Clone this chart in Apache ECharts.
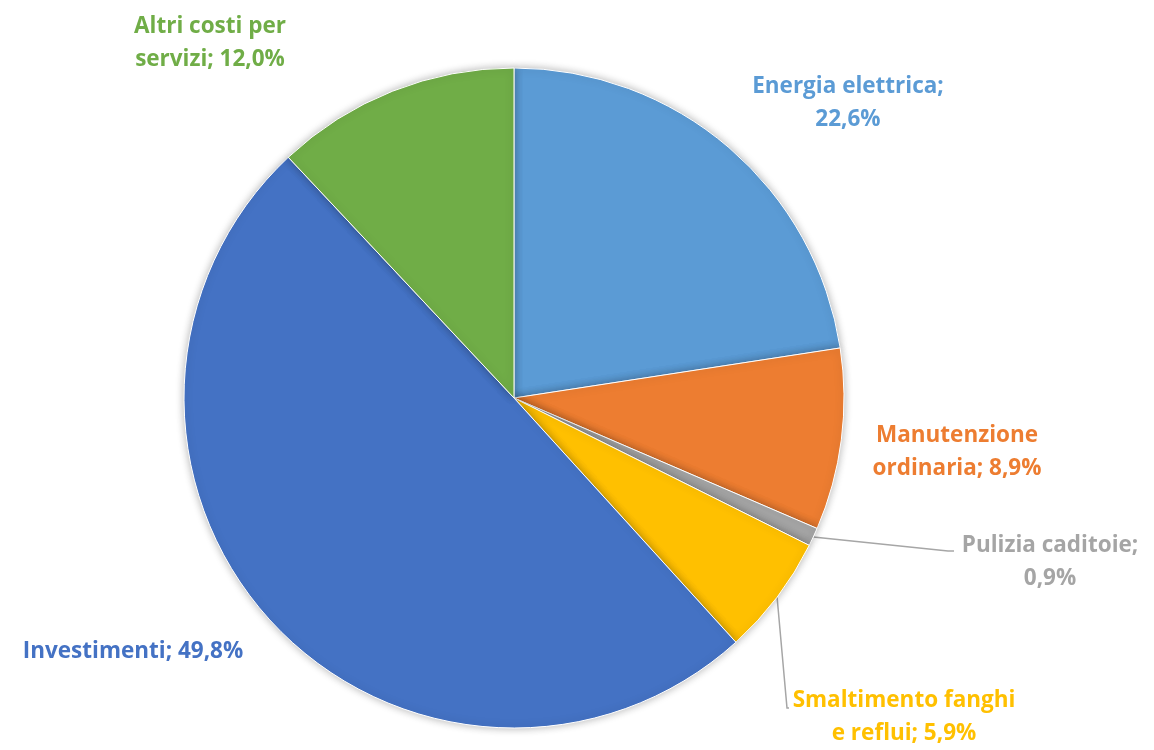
<!DOCTYPE html>
<html>
<head>
<meta charset="utf-8">
<script src="https://cdn.jsdelivr.net/npm/echarts@6/dist/echarts.min.js"></script>
<style>
  html, body { margin: 0; padding: 0; background: #fff; }
  #chart { width: 1154px; height: 750px; }
</style>
</head>
<body>
<div id="chart"></div>
<script>
// dati del grafico (percentuali)
var categories = ['Energia elettrica', 'Manutenzione ordinaria', 'Pulizia caditoie', 'Smaltimento fanghi e reflui', 'Investimenti', 'Altri costi per servizi'];
var values = [22.6, 8.9, 0.9, 5.9, 49.8, 12.0];
var colors = ['#5B9BD5', '#ED7D31', '#A5A5A5', '#FFC000', '#4472C4', '#70AD47'];
// testo delle etichette, {v} = valore
var labelTexts = [
    'Energia elettrica;\n{v}',
    'Manutenzione\nordinaria; {v}',
    'Pulizia caditoie;\n{v}',
    'Smaltimento fanghi\ne reflui; {v}',
    'Investimenti; {v}',
    'Altri costi per\nservizi; {v}'
];

// posizione etichette (centro del blocco testo)
var labelPos = [[848, 103], [957, 452], [1050, 562], [904, 717], [133, 652], [210, 43]];

var chart = echarts.init(document.getElementById('chart'));

var data = [];
for (var i = 0; i < values.length; i++) {
    data.push({
        name: categories[i],
        value: values[i],
        itemStyle: { color: colors[i] },
        label: { color: colors[i] },
        labelLine: { show: i == 2 || i == 3 }
    });
}

function fmt(v) {
    return v.toFixed(1).replace('.', ',') + '%';
}

chart.setOption({
    animation: false,
    series: [{
        type: 'pie',
        center: [514, 398],
        radius: 330,
        startAngle: 90,
        clockwise: true,
        data: data,
        itemStyle: {
            borderColor: '#fff',
            borderWidth: 1,
            shadowBlur: 8,
            shadowColor: 'rgba(0,0,0,0.3)'
        },
        label: {
            show: true,
            position: 'outside',
            fontFamily: 'Open Sans',
            fontWeight: 'bold',
            fontSize: 22.5,
            lineHeight: 33,
            align: 'center',
            formatter: function (p) {
                return labelTexts[p.dataIndex].replace('{v}', fmt(p.value));
            }
        },
        labelLine: {
            lineStyle: { color: '#A6A6A6', width: 1.5 },
            length: 10,
            length2: 10
        },
        labelLayout: function (p) {
            var i = p.dataIndex;
            var res = {
                x: labelPos[i][0],
                y: labelPos[i][1],
                align: 'center',
                verticalAlign: 'middle'
            };
            if (i == 2 && p.labelLinePoints) {
                var a = p.labelLinePoints[0];
                res.labelLinePoints = [a, [948, 551], [954, 551]];
            }
            if (i == 3 && p.labelLinePoints) {
                var b = p.labelLinePoints[0];
                res.labelLinePoints = [b, [787, 708], [789, 708]];
            }
            return res;
        }
    }]
});
</script>
</body>
</html>
